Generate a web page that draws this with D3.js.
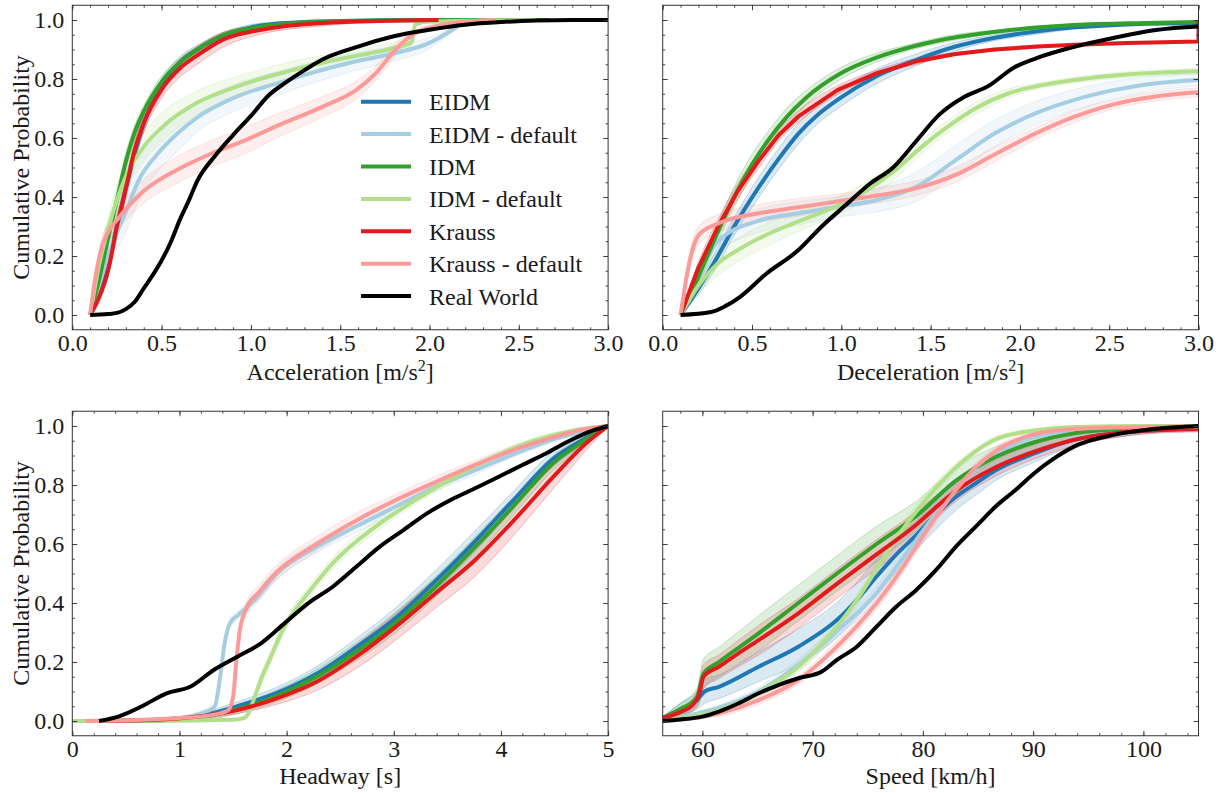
<!DOCTYPE html>
<html lang="en">
<head>
<meta charset="UTF-8">
<title>Cumulative Probability</title>
<script src="https://cdn.jsdelivr.net/npm/d3@7"></script>
<style>
  body { margin: 0; background: #fff; }
</style>
</head>
<body>
<svg id="chart" width="1220" height="793"></svg>
<script>
// series names + colours (legend order)
const names = ["EIDM", "EIDM - default", "IDM", "IDM - default", "Krauss", "Krauss - default", "Real World"];
const colors = ["#1f78b4", "#a6cee3", "#33a02c", "#b2df8a", "#e31a1c", "#fb9a99", "#000000"];
const FONT = "'Liberation Serif', 'DejaVu Serif', 'Times New Roman', serif";

// shared y ticks
const yTicks = [0, 0.2, 0.4, 0.6, 0.8, 1.0];
const yTickLabels = ["0.0", "0.2", "0.4", "0.6", "0.8", "1.0"];

// x ticks per panel
const accTicks = [0, 0.5, 1, 1.5, 2, 2.5, 3];
const accTickLabels = ["0.0", "0.5", "1.0", "1.5", "2.0", "2.5", "3.0"];
const hwTicks = [0, 1, 2, 3, 4, 5];
const hwTickLabels = ["0", "1", "2", "3", "4", "5"];
const spTicks = [60, 70, 80, 90, 100];
const spTickLabels = ["60", "70", "80", "90", "100"];

// ---------- Acceleration (x, cumulative p, half width of run spread) ----------
const accX_EIDM = [0.1,0.15,0.2,0.25,0.3,0.35,0.4,0.5,0.6,0.7,0.8,1.0,1.2,1.5,2.0,2.6];
const accP_EIDM = [0,0.07,0.17,0.3,0.43,0.55,0.65,0.775,0.855,0.9,0.935,0.975,0.99,0.997,1,1];
const accW_EIDM = [0,0.03,0.04,0.04,0.04,0.035,0.03,0.025,0.02,0.015,0.01,0.01,0.005,0,0,0];
const accX_EIDMd = [0.1,0.15,0.2,0.25,0.3,0.37,0.48,0.59,0.7,0.92,1.15,1.37,1.59,1.81,1.99,2.1,2.17,2.2,2.45];
const accP_EIDMd = [0,0.1,0.2,0.28,0.35,0.455,0.548,0.616,0.67,0.74,0.786,0.826,0.86,0.888,0.92,0.956,0.984,1,1];
const accW_EIDMd = [0,0.03,0.05,0.06,0.07,0.07,0.06,0.06,0.05,0.045,0.04,0.035,0.03,0.025,0.02,0.01,0.005,0,0];
const accX_IDM = [0.1,0.15,0.2,0.25,0.3,0.35,0.4,0.5,0.6,0.7,0.85,1.05,1.4,2.0,2.67];
const accP_IDM = [0,0.12,0.26,0.39,0.52,0.62,0.69,0.79,0.855,0.9,0.95,0.977,0.994,1,1];
const accW_IDM = [0,0.02,0.03,0.03,0.03,0.025,0.02,0.02,0.015,0.01,0.01,0.005,0,0,0];
const accX_IDMd = [0.1,0.15,0.2,0.3,0.4,0.5,0.7,0.9,1.05,1.2,1.4,1.6,1.8,1.9,1.92,2.0,2.6];
const accP_IDMd = [0,0.17,0.29,0.47,0.57,0.635,0.72,0.77,0.8,0.825,0.855,0.88,0.905,0.925,0.985,0.995,1];
const accW_IDMd = [0,0.03,0.04,0.05,0.05,0.05,0.04,0.035,0.03,0.03,0.025,0.02,0.02,0.01,0.005,0,0];
const accX_Kr = [0.1,0.15,0.2,0.25,0.3,0.35,0.4,0.5,0.6,0.7,0.85,1.05,1.4,2.05];
const accP_Kr = [0,0.06,0.15,0.3,0.43,0.56,0.65,0.765,0.835,0.88,0.935,0.966,0.99,1];
const accW_Kr = [0,0.01,0.02,0.03,0.03,0.03,0.03,0.03,0.03,0.03,0.025,0.015,0.01,0];
const accX_KrD = [0.1,0.13,0.17,0.21,0.26,0.4,0.58,0.77,0.96,1.15,1.39,1.59,1.7,1.81,1.92,2.03,2.25,2.37];
const accP_KrD = [0,0.13,0.24,0.29,0.33,0.42,0.49,0.545,0.59,0.642,0.703,0.763,0.82,0.9,0.956,0.978,0.997,1];
const accW_KrD = [0,0.02,0.03,0.03,0.035,0.04,0.045,0.045,0.045,0.04,0.035,0.03,0.025,0.02,0.01,0.01,0,0];
const accX_RW = [0.1,0.2,0.25,0.3,0.35,0.4,0.45,0.5,0.55,0.6,0.65,0.7,0.8,0.9,1.0,1.1,1.2,1.3,1.4,1.6,1.8,2.0,2.2,2.4,2.6,2.8,3.0];
const accP_RW = [0,0.003,0.007,0.02,0.045,0.09,0.135,0.185,0.245,0.32,0.385,0.455,0.54,0.61,0.675,0.745,0.79,0.83,0.866,0.91,0.945,0.967,0.984,0.993,0.998,1,1];

// ---------- Deceleration ----------
const decX_EIDM = [0.1,0.2,0.3,0.4,0.54,0.65,0.76,0.87,0.98,1.2,1.42,1.64,1.86,2.1,2.31,2.6,3.0];
const decP_EIDM = [0,0.09,0.19,0.3,0.435,0.53,0.615,0.68,0.73,0.81,0.865,0.91,0.94,0.962,0.975,0.985,0.99];
const decW_EIDM = [0,0.02,0.03,0.03,0.035,0.035,0.035,0.03,0.03,0.025,0.02,0.015,0.01,0.01,0.005,0,0];
const decX_EIDMd = [0.1,0.2,0.31,0.54,0.76,0.98,1.2,1.42,1.64,1.86,2.09,2.31,2.53,2.75,3.0];
const decP_EIDMd = [0,0.14,0.25,0.32,0.345,0.367,0.39,0.435,0.525,0.616,0.684,0.73,0.763,0.785,0.797];
const decW_EIDMd = [0,0.03,0.04,0.04,0.04,0.035,0.04,0.05,0.05,0.045,0.04,0.035,0.03,0.025,0.02];
const decX_IDM = [0.1,0.2,0.3,0.4,0.5,0.6,0.7,0.8,1.0,1.2,1.4,1.6,1.9,2.3,2.7,3.0];
const decP_IDM = [0,0.13,0.27,0.4,0.51,0.6,0.675,0.735,0.82,0.873,0.91,0.937,0.963,0.983,0.99,0.993];
const decW_IDM = [0,0.02,0.03,0.035,0.035,0.03,0.03,0.025,0.02,0.015,0.01,0.01,0.005,0,0,0];
const decX_IDMd = [0.1,0.2,0.3,0.42,0.54,0.73,0.9,1.05,1.15,1.3,1.45,1.6,1.75,1.93,2.13,2.35,2.6,3.0];
const decP_IDMd = [0,0.1,0.17,0.22,0.26,0.31,0.35,0.39,0.425,0.49,0.57,0.64,0.7,0.75,0.78,0.8,0.815,0.826];
const decW_IDMd = [0,0.03,0.04,0.04,0.04,0.035,0.03,0.03,0.03,0.03,0.025,0.02,0.02,0.015,0.01,0.01,0.01,0.01];
const decX_Kr = [0.1,0.2,0.31,0.42,0.54,0.65,0.76,0.98,1.2,1.42,1.64,1.86,2.1,2.31,2.6,3.0,3.0];
const decP_Kr = [0,0.16,0.3,0.42,0.525,0.61,0.673,0.763,0.82,0.86,0.885,0.9,0.91,0.916,0.922,0.927,1.0];
const decW_Kr = [0,0.02,0.025,0.025,0.025,0.02,0.02,0.015,0.01,0.01,0.005,0.005,0.005,0,0,0,0];
const decX_KrD = [0.1,0.15,0.2,0.31,0.54,0.76,0.98,1.2,1.42,1.64,1.86,2.09,2.31,2.53,2.75,3.0];
const decP_KrD = [0,0.18,0.27,0.31,0.345,0.365,0.385,0.405,0.43,0.475,0.545,0.616,0.673,0.715,0.74,0.755];
const decW_KrD = [0,0.03,0.03,0.03,0.03,0.03,0.025,0.025,0.025,0.025,0.025,0.02,0.02,0.015,0.015,0.015];
const decX_RW = [0.1,0.27,0.35,0.43,0.58,0.76,0.89,1.02,1.16,1.29,1.42,1.55,1.69,1.82,1.97,2.09,2.31,2.53,2.75,3.0,3.1];
const decP_RW = [0,0.01,0.03,0.06,0.14,0.22,0.3,0.37,0.445,0.5,0.59,0.68,0.74,0.775,0.84,0.87,0.91,0.94,0.965,0.978,0.98];

// ---------- Headway ----------
const hwX_EIDM = [0.3,0.8,1.17,1.54,1.91,2.28,2.65,3.02,3.39,3.76,4.12,4.49,4.8,5.0];
const hwP_EIDM = [0,0.003,0.015,0.05,0.095,0.16,0.25,0.35,0.475,0.61,0.75,0.89,0.96,1];
const hwW_EIDM = [0,0.003,0.01,0.015,0.02,0.025,0.03,0.035,0.035,0.035,0.03,0.025,0.015,0];
const hwX_EIDMd = [0.15,0.6,1.0,1.2,1.33,1.38,1.42,1.47,1.55,1.7,1.91,2.28,2.65,3.02,3.39,3.76,4.12,4.49,5.0];
const hwP_EIDMd = [0,0.002,0.01,0.025,0.05,0.15,0.26,0.33,0.36,0.41,0.5,0.59,0.66,0.727,0.794,0.85,0.905,0.955,1];
const hwW_EIDMd = [0,0,0.005,0.01,0.01,0.01,0.015,0.015,0.015,0.02,0.02,0.02,0.02,0.02,0.015,0.015,0.01,0.01,0];
const hwX_IDM = [0.3,0.8,1.17,1.54,1.91,2.28,2.65,3.02,3.39,3.76,4.12,4.49,4.8,5.0];
const hwP_IDM = [0,0.002,0.012,0.04,0.085,0.15,0.235,0.335,0.455,0.59,0.73,0.875,0.955,1];
const hwW_IDM = [0,0.003,0.01,0.015,0.02,0.025,0.03,0.035,0.035,0.035,0.03,0.025,0.015,0];
const hwX_IDMd = [0.0,1.0,1.5,1.6,1.65,1.69,1.76,1.84,1.98,2.2,2.46,2.83,3.2,3.57,3.94,4.31,4.68,5.0];
const hwP_IDMd = [0,0.001,0.004,0.01,0.03,0.07,0.14,0.207,0.32,0.433,0.546,0.659,0.749,0.828,0.896,0.95,0.985,1];
const hwW_IDMd = [0,0,0,0.005,0.01,0.015,0.02,0.02,0.02,0.02,0.02,0.02,0.015,0.015,0.01,0.01,0.005,0];
const hwX_Kr = [0.3,0.8,1.17,1.54,1.91,2.28,2.65,3.02,3.39,3.76,4.12,4.49,4.79,5.0];
const hwP_Kr = [0,0.004,0.015,0.037,0.077,0.133,0.218,0.32,0.433,0.546,0.68,0.828,0.94,1];
const hwW_Kr = [0,0.003,0.008,0.012,0.02,0.03,0.04,0.045,0.05,0.055,0.05,0.04,0.025,0];
const hwX_KrD = [0.12,0.6,1.0,1.3,1.45,1.5,1.53,1.56,1.61,1.75,1.91,2.28,2.65,3.02,3.39,3.76,4.12,4.49,4.79,5.0];
const hwP_KrD = [0,0.003,0.01,0.02,0.035,0.08,0.2,0.3,0.37,0.44,0.505,0.6,0.68,0.749,0.81,0.868,0.919,0.962,0.99,1];
const hwW_KrD = [0,0,0.005,0.005,0.01,0.01,0.015,0.02,0.02,0.025,0.025,0.025,0.025,0.02,0.02,0.015,0.015,0.01,0.005,0];
const hwX_RW = [0.25,0.43,0.65,0.88,1.1,1.32,1.54,1.76,1.98,2.2,2.43,2.65,2.87,3.09,3.31,3.53,3.76,3.98,4.2,4.42,4.64,4.86,5.0];
const hwP_RW = [0,0.015,0.05,0.094,0.116,0.173,0.218,0.263,0.331,0.399,0.455,0.523,0.591,0.647,0.704,0.749,0.789,0.828,0.868,0.907,0.95,0.985,1];

// ---------- Speed ----------
const spX_EIDM = [56.4,58,59.5,60.2,61.5,65.1,68.7,72.2,74,75.8,77.6,79.4,81.2,83,84.8,86.6,90.1,93.7,97.3,100.9,105];
const spP_EIDM = [0.01,0.04,0.07,0.1,0.116,0.184,0.252,0.342,0.41,0.49,0.565,0.63,0.7,0.76,0.806,0.85,0.907,0.953,0.975,0.986,0.992];
const spW_EIDM = [0.005,0.02,0.03,0.04,0.04,0.05,0.06,0.06,0.06,0.06,0.06,0.05,0.05,0.045,0.04,0.035,0.03,0.02,0.015,0.01,0.01];
const spX_EIDMd = [56.4,61.5,65.1,68.7,72.2,75.8,77.6,79.4,81.2,83.0,84.8,86.6,90.1,93.7,100,105];
const spP_EIDMd = [0.003,0.045,0.1,0.19,0.305,0.433,0.523,0.614,0.704,0.783,0.851,0.905,0.962,0.985,0.996,0.998];
const spW_EIDMd = [0,0.01,0.015,0.02,0.02,0.025,0.025,0.025,0.02,0.02,0.02,0.015,0.01,0.01,0.005,0.005];
const spX_IDM = [56.4,58,59.5,60.1,61.5,65.1,68.7,72.2,75.8,79.4,83,86.6,90.1,93.7,97.3,105];
const spP_IDM = [0.01,0.04,0.08,0.16,0.2,0.297,0.4,0.5,0.6,0.695,0.815,0.895,0.945,0.975,0.988,0.995];
const spW_IDM = [0.005,0.02,0.03,0.05,0.05,0.06,0.06,0.06,0.06,0.05,0.045,0.035,0.025,0.02,0.015,0.01];
const spX_IDMd = [56.4,61.5,65.1,68.7,72.2,74.0,75.8,77.6,79.4,81.2,83.0,84.8,86.6,90.1,93.7,100,105];
const spP_IDMd = [0.003,0.037,0.094,0.184,0.32,0.41,0.515,0.62,0.71,0.79,0.86,0.915,0.955,0.985,0.997,1,1];
const spW_IDMd = [0,0.01,0.015,0.02,0.02,0.02,0.02,0.02,0.02,0.02,0.015,0.01,0.01,0.005,0,0,0];
const spX_Kr = [56.4,58,59,59.7,60.1,61.5,63.3,65.1,68.7,72.2,75.8,79.4,81.2,83,86.6,90.1,93.7,97.3,100.9,105];
const spP_Kr = [0.01,0.03,0.05,0.09,0.15,0.184,0.23,0.274,0.365,0.465,0.565,0.665,0.725,0.78,0.86,0.913,0.953,0.975,0.985,0.99];
const spW_Kr = [0.005,0.015,0.02,0.03,0.04,0.04,0.045,0.05,0.05,0.05,0.05,0.045,0.04,0.035,0.03,0.025,0.02,0.015,0.01,0.01];
const spX_KrD = [56.4,61.5,65.1,68.7,72.2,75.8,77.6,79.4,81.2,83.0,84.8,86.6,90.1,93.7,100,105];
const spP_KrD = [0,0.026,0.071,0.139,0.252,0.399,0.489,0.591,0.693,0.783,0.86,0.915,0.972,0.99,0.997,0.998];
const spW_KrD = [0,0.01,0.015,0.015,0.02,0.02,0.02,0.02,0.02,0.02,0.015,0.015,0.01,0.005,0,0];
const spX_RW = [56.4,58,60,61.5,63.3,65.1,66.9,68.7,70.8,72.2,74.0,75.8,77.6,79.4,81.2,83.0,84.8,86.6,88.4,90.1,91.9,93.7,97.3,100.9,105];
const spP_RW = [0,0.005,0.015,0.032,0.06,0.094,0.122,0.145,0.167,0.207,0.252,0.32,0.388,0.444,0.512,0.591,0.659,0.727,0.783,0.84,0.89,0.93,0.97,0.99,1];

// ---------- layout ----------
const svg = d3.select("#chart").style("font-family", FONT);
const pw = 535.8, ph = 324.5;
const colLeft = [72.3, 662.7];
const rowTop = [5.25, 411.25];

function curve(xs, ps, ws) {
  return xs.map((x, i) => ({ x: x, p: ps[i], w: ws ? ws[i] : 0 }));
}

const panels = [
  { col: 0, row: 0, xDomain: [0, 3], ticks: accTicks, labels: accTickLabels, minor: d3.range(0, 3.001, 0.1),
    xLabel: ["Acceleration [m/s", "2", "]"], yLabel: true, legend: true,
    curves: [curve(accX_EIDM, accP_EIDM, accW_EIDM), curve(accX_EIDMd, accP_EIDMd, accW_EIDMd),
             curve(accX_IDM, accP_IDM, accW_IDM), curve(accX_IDMd, accP_IDMd, accW_IDMd),
             curve(accX_Kr, accP_Kr, accW_Kr), curve(accX_KrD, accP_KrD, accW_KrD), curve(accX_RW, accP_RW)] },
  { col: 1, row: 0, xDomain: [0, 3], ticks: accTicks, labels: accTickLabels, minor: d3.range(0, 3.001, 0.1),
    xLabel: ["Deceleration [m/s", "2", "]"], yLabel: false,
    curves: [curve(decX_EIDM, decP_EIDM, decW_EIDM), curve(decX_EIDMd, decP_EIDMd, decW_EIDMd),
             curve(decX_IDM, decP_IDM, decW_IDM), curve(decX_IDMd, decP_IDMd, decW_IDMd),
             curve(decX_Kr, decP_Kr, decW_Kr), curve(decX_KrD, decP_KrD, decW_KrD), curve(decX_RW, decP_RW)] },
  { col: 0, row: 1, xDomain: [0, 5], ticks: hwTicks, labels: hwTickLabels, minor: d3.range(0, 5.001, 0.2),
    xLabel: ["Headway [s]"], yLabel: true,
    curves: [curve(hwX_EIDM, hwP_EIDM, hwW_EIDM), curve(hwX_EIDMd, hwP_EIDMd, hwW_EIDMd),
             curve(hwX_IDM, hwP_IDM, hwW_IDM), curve(hwX_IDMd, hwP_IDMd, hwW_IDMd),
             curve(hwX_Kr, hwP_Kr, hwW_Kr), curve(hwX_KrD, hwP_KrD, hwW_KrD), curve(hwX_RW, hwP_RW)] },
  { col: 1, row: 1, xDomain: [56.4, 105], ticks: spTicks, labels: spTickLabels, minor: d3.range(58, 105, 2),
    xLabel: ["Speed [km/h]"], yLabel: false,
    curves: [curve(spX_EIDM, spP_EIDM, spW_EIDM), curve(spX_EIDMd, spP_EIDMd, spW_EIDMd),
             curve(spX_IDM, spP_IDM, spW_IDM), curve(spX_IDMd, spP_IDMd, spW_IDMd),
             curve(spX_Kr, spP_Kr, spW_Kr), curve(spX_KrD, spP_KrD, spW_KrD), curve(spX_RW, spP_RW)] }
];

const yMinor = d3.range(0, 1.001, 0.05);

panels.forEach((cfg, k) => {
  const g = svg.append("g").attr("transform", `translate(${colLeft[cfg.col]},${rowTop[cfg.row]})`);
  const x = d3.scaleLinear().domain(cfg.xDomain).range([0, pw]);
  const y = d3.scaleLinear().domain([-0.05, 1.05]).range([ph, 0]);

  g.append("clipPath").attr("id", "clip" + k)
    .append("rect").attr("width", pw).attr("height", ph);
  const plot = g.append("g").attr("clip-path", `url(#clip${k})`);

  const clamp = v => Math.max(0, Math.min(1, v));
  const band = d3.area()
    .x(d => x(d.x))
    .y0(d => y(clamp(d.p - d.w)))
    .y1(d => y(clamp(d.p + d.w)))
    .curve(d3.curveMonotoneX);
  // smooth unless the series has a vertical step (repeated x)
  const lineFor = c => {
    const hasStep = c.some((d, i) => i > 0 && d.x === c[i - 1].x);
    return d3.line().x(d => x(d.x)).y(d => y(d.p))
      .curve(hasStep ? d3.curveLinear : d3.curveMonotoneX);
  };

  // spread of the individual runs
  cfg.curves.forEach((c, i) => {
    if (i === 6) return;
    plot.append("path").datum(c)
      .attr("d", band)
      .attr("fill", colors[i])
      .attr("fill-opacity", 0.16)
      .attr("stroke", colors[i])
      .attr("stroke-opacity", 0.3)
      .attr("stroke-width", 0.8);
  });
  // mean curves
  cfg.curves.forEach((c, i) => {
    plot.append("path").datum(c)
      .attr("d", lineFor(c))
      .attr("fill", "none")
      .attr("stroke", colors[i])
      .attr("stroke-width", 4)
      .attr("stroke-linejoin", "round")
      .attr("stroke-linecap", "butt");
  });

  // axes: inward ticks on all four sides
  const styleAxis = sel => {
    sel.select(".domain").remove();
    sel.attr("font-family", FONT).attr("font-size", 24).attr("color", "#333");
    sel.selectAll("text").style("font-family", FONT).attr("fill", "#1a1a1a");
    sel.selectAll("line").attr("stroke-width", 0.9);
  };
  g.append("g").attr("transform", `translate(0,${ph})`)
    .call(d3.axisBottom(x).tickValues(cfg.minor).tickSize(-2.5).tickFormat("")).call(styleAxis);
  g.append("g").attr("transform", `translate(0,${ph})`)
    .call(d3.axisBottom(x).tickValues(cfg.ticks).tickSize(-5).tickPadding(4)
      .tickFormat((d, i) => cfg.labels[i])).call(styleAxis);
  g.append("g")
    .call(d3.axisTop(x).tickValues(cfg.minor).tickSize(-2.5).tickFormat("")).call(styleAxis);
  g.append("g")
    .call(d3.axisTop(x).tickValues(cfg.ticks).tickSize(-5).tickFormat("")).call(styleAxis);
  g.append("g")
    .call(d3.axisLeft(y).tickValues(yMinor).tickSize(-2.5).tickFormat("")).call(styleAxis);
  g.append("g")
    .call(d3.axisLeft(y).tickValues(yTicks).tickSize(-5).tickPadding(8)
      .tickFormat((d, i) => cfg.yLabel ? yTickLabels[i] : "")).call(styleAxis);
  g.append("g").attr("transform", `translate(${pw},0)`)
    .call(d3.axisRight(y).tickValues(yMinor).tickSize(-2.5).tickFormat("")).call(styleAxis);
  g.append("g").attr("transform", `translate(${pw},0)`)
    .call(d3.axisRight(y).tickValues(yTicks).tickSize(-5).tickFormat("")).call(styleAxis);

  g.append("rect").attr("width", pw).attr("height", ph)
    .attr("fill", "none").attr("stroke", "#333").attr("stroke-width", 1);

  // x label
  const xl = g.append("text")
    .attr("x", pw / 2).attr("y", ph + (cfg.row === 0 ? 50.5 : 47.8))
    .attr("text-anchor", "middle").attr("font-size", 24)
    .style("font-family", FONT).attr("fill", "#1a1a1a");
  xl.append("tspan").text(cfg.xLabel[0]);
  if (cfg.xLabel.length > 1) {
    xl.append("tspan").attr("dy", -9).attr("font-size", 16).text(cfg.xLabel[1]);
    xl.append("tspan").attr("dy", 9).text(cfg.xLabel[2]);
  }

  if (cfg.yLabel) {
    g.append("text")
      .attr("transform", `translate(${29 - colLeft[cfg.col]},${ph / 2}) rotate(-90)`)
      .attr("text-anchor", "middle").attr("font-size", 24)
      .style("font-family", FONT).attr("fill", "#1a1a1a")
      .text("Cumulative Probability");
  }

  if (cfg.legend) {
    const lg = g.append("g").attr("transform", `translate(${361 - colLeft[0]},${101.7 - rowTop[0]})`);
    names.forEach((n, i) => {
      const row = lg.append("g").attr("transform", `translate(0,${i * 32.4})`);
      row.append("line").attr("x1", 0).attr("x2", 50)
        .attr("stroke", colors[i]).attr("stroke-width", 4);
      row.append("text").attr("x", 68).attr("dy", "0.35em").attr("font-size", 24)
        .style("font-family", FONT).attr("fill", "#1a1a1a").text(n);
    });
  }
});
</script>
</body>
</html>
